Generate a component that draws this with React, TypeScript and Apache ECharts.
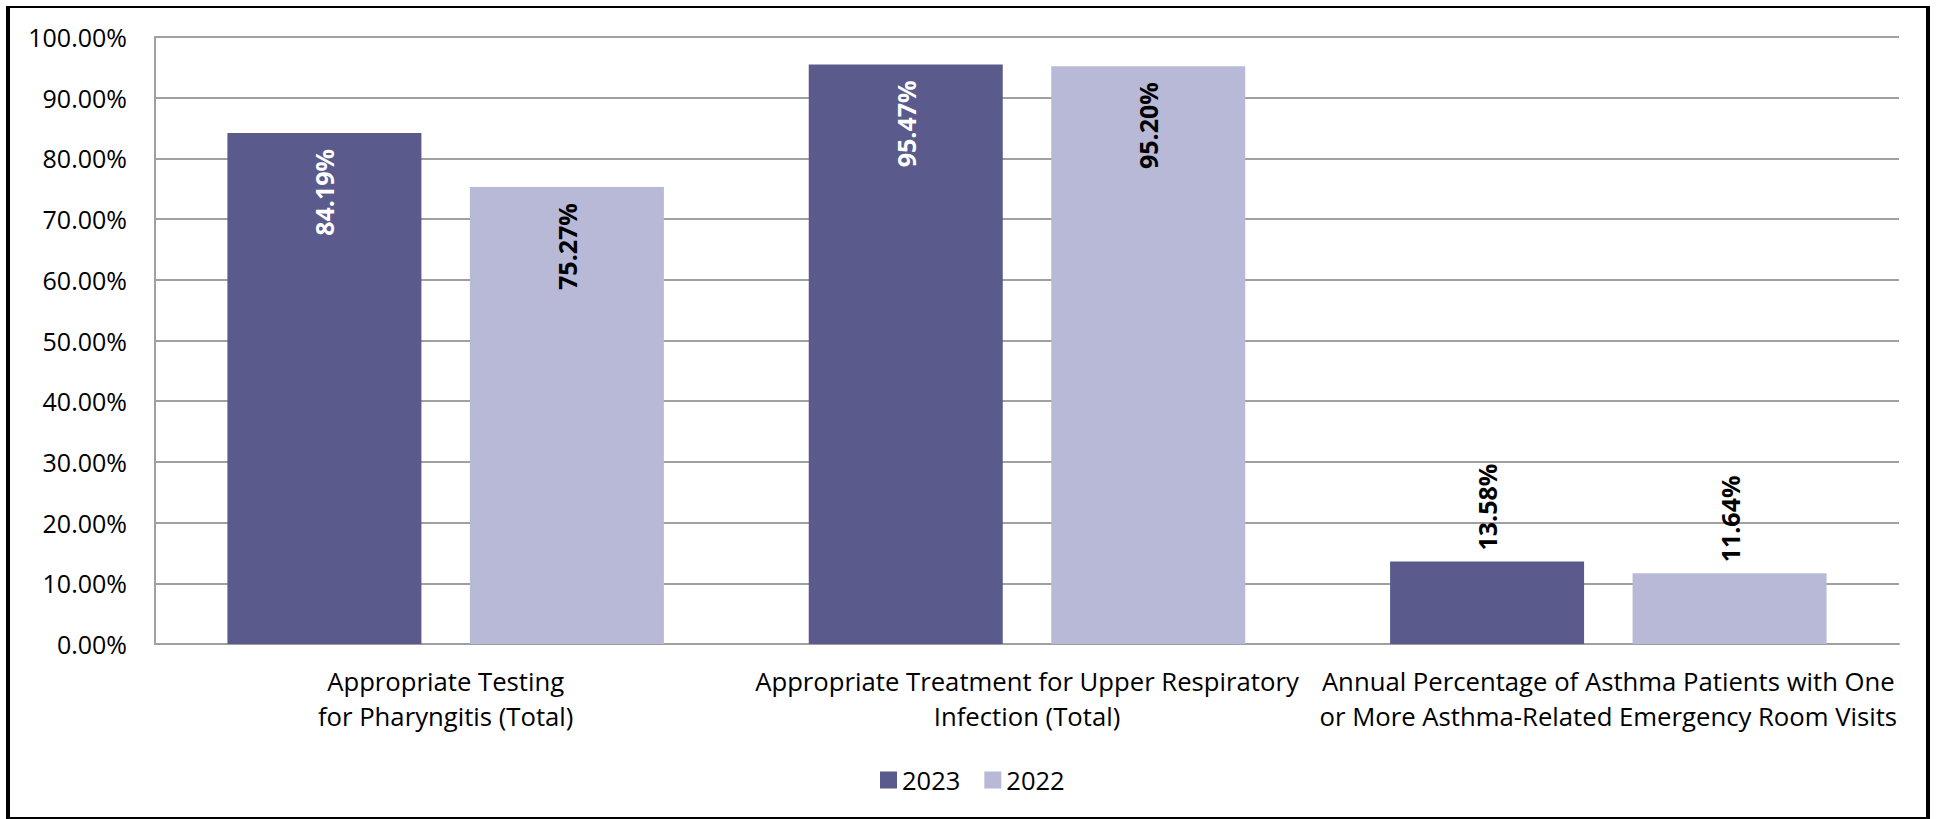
import React, { useEffect, useRef } from "react";
import * as echarts from "echarts";

const categories = [
  "Appropriate Testing\nfor Pharyngitis (Total)",
  "Appropriate Treatment for Upper Respiratory\nInfection (Total)",
  "Annual Percentage of Asthma Patients with One\nor More Asthma-Related Emergency Room Visits",
];
const seriesNames = ["2023", "2022"];
const data2023 = [84.19, 95.47, 13.58];
const data2022 = [75.27, 95.2, 11.64];
const colors = ["#5A5A8C", "#B8B9D6"];
const insideLabelColors = ["#FFFFFF", "#000000"];
const yTicks = { min: 0, max: 100, interval: 10 };

const FONT = "'Open Sans', 'Liberation Sans', sans-serif";

function buildData(vals: number[], idx: number) {
  return vals.map((v) => {
    const inside = v > 30;
    return {
      value: v,
      label: inside
        ? {
            position: "insideTop",
            align: "right",
            verticalAlign: "middle",
            distance: 16,
            color: insideLabelColors[idx],
          }
        : {
            position: "top",
            align: "left",
            verticalAlign: "middle",
            distance: 11,
            color: "#000000",
          },
    };
  });
}

export default function App() {
  const ref = useRef<HTMLDivElement>(null);
  useEffect(() => {
    if (!ref.current) return;
    const chart = echarts.init(ref.current, undefined, { renderer: "svg" });
    const seriesData = [data2023, data2022];
    chart.setOption({
      animation: false,
      backgroundColor: "#ffffff",
      textStyle: { fontFamily: FONT },
      grid: { left: 155, right: 38, top: 37, bottom: 175, containLabel: false },
      legend: {
        data: seriesNames,
        left: 875,
        top: 762,
        itemWidth: 17,
        itemHeight: 17,
        itemGap: 24,
        icon: "rect",
        textStyle: { fontSize: 25.5, color: "#000", fontFamily: FONT },
      },
      xAxis: {
        type: "category",
        data: categories,
        axisLine: { show: true, lineStyle: { color: "#A0A0A0", width: 2 } },
        axisTick: { show: false },
        axisLabel: {
          color: "#000",
          fontSize: 25.7,
          fontFamily: FONT,
          lineHeight: 35,
          margin: 20,
          interval: 0,
        },
      },
      yAxis: {
        type: "value",
        min: yTicks.min,
        max: yTicks.max,
        interval: yTicks.interval,
        axisLine: { show: true, lineStyle: { color: "#A0A0A0", width: 2 } },
        axisTick: { show: false },
        splitLine: { show: true, lineStyle: { color: "#A0A0A0", width: 2 } },
        axisLabel: {
          color: "#000",
          fontSize: 25,
          fontFamily: FONT,
          margin: 28,
          formatter: (v: number) => v.toFixed(2) + "%",
        },
      },
      series: seriesNames.map((name, i) => ({
        name,
        type: "bar",
        barWidth: 194,
        barGap: "25%",
        itemStyle: { color: colors[i] },
        label: {
          show: true,
          rotate: 90,
          fontSize: 25,
          fontWeight: "bold",
          fontFamily: FONT,
          formatter: (p: any) => Number(p.value).toFixed(2) + "%",
        },
        data: buildData(seriesData[i], i),
      })),
    });
    return () => chart.dispose();
  }, []);

  return (
    <div style={{ position: "fixed", left: 0, top: 0, width: 1937, height: 819, background: "#fff" }}>
      <div ref={ref} style={{ position: "absolute", left: 0, top: 0, width: 1937, height: 819 }} />
      <div
        style={{
          position: "absolute",
          left: 6,
          top: 6,
          width: 1916,
          height: 809,
          borderLeft: "4px solid #000",
          borderRight: "4px solid #000",
          borderTop: "2px solid #000",
          borderBottom: "2px solid #000",
          pointerEvents: "none",
        }}
      />
    </div>
  );
}
